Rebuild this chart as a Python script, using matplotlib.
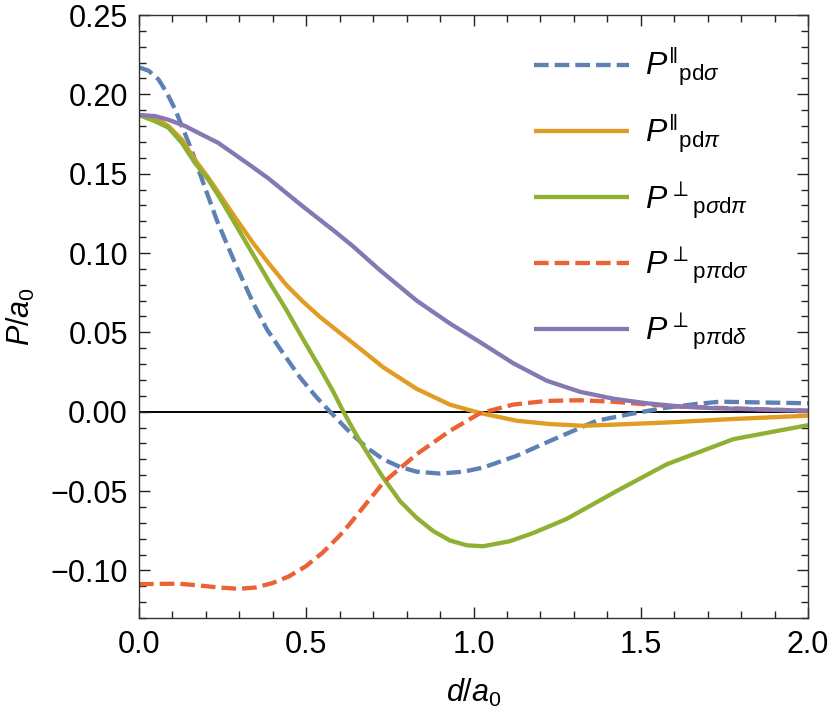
import matplotlib
matplotlib.use("Agg")
import matplotlib.pyplot as plt
from matplotlib.ticker import MultipleLocator, FuncFormatter

plt.rcParams["font.family"] = ["Liberation Sans", "DejaVu Sans"]
plt.rcParams["mathtext.fontset"] = "custom"
plt.rcParams["mathtext.rm"] = "Liberation Sans"
plt.rcParams["mathtext.it"] = "Liberation Sans:italic"

# values
d_pds = [0.0, 0.028, 0.058, 0.083, 0.108, 0.132, 0.157, 0.182, 0.207, 0.232, 0.262,
         0.292, 0.342, 0.382, 0.422, 0.481, 0.531, 0.571, 0.631, 0.681, 0.73, 0.78,
         0.83, 0.9, 0.97, 1.029, 1.129, 1.229, 1.368, 1.468, 1.568, 1.667, 1.737, 2.0]
p_pds = [0.217, 0.215, 0.2095, 0.201, 0.1905, 0.178, 0.165, 0.150, 0.1356, 0.121, 0.106,
         0.0913, 0.0682, 0.0520, 0.0395, 0.0217, 0.009, 0.0, -0.0131, -0.0226, -0.030, -0.0348,
         -0.0378, -0.039, -0.0378, -0.0352, -0.0278, -0.0184, -0.0057, -0.0015, 0.0023, 0.0049, 0.0063, 0.0053]

d_pdp = [0.0, 0.048, 0.088, 0.128, 0.167, 0.207, 0.242, 0.292, 0.342, 0.392, 0.441,
         0.491, 0.541, 0.591, 0.661, 0.73, 0.83, 0.93, 1.019, 1.129, 1.229, 1.328,
         1.578, 1.777, 2.0]
p_pdp = [0.187, 0.1852, 0.180, 0.1715, 0.1589, 0.1475, 0.1367, 0.121, 0.106, 0.0924, 0.0797,
         0.0692, 0.0597, 0.0513, 0.0397, 0.028, 0.0144, 0.0044, -0.0008, -0.0057, -0.0078, -0.0089,
         -0.0068, -0.0046, -0.0025]

d_psdp = [0.0, 0.048, 0.088, 0.128, 0.167, 0.207, 0.242, 0.292, 0.342, 0.392, 0.441,
          0.491, 0.541, 0.581, 0.611, 0.651, 0.691, 0.73, 0.78, 0.83, 0.88, 0.93,
          0.98, 1.029, 1.109, 1.179, 1.229, 1.279, 1.428, 1.578, 1.777, 2.0]
p_psdp = [0.187, 0.183, 0.179, 0.1694, 0.1568, 0.1462, 0.1346, 0.1167, 0.0987, 0.0808, 0.064,
          0.0455, 0.0275, 0.0125, 0.0, -0.0152, -0.0289, -0.0416, -0.0563, -0.0669, -0.0753, -0.0812,
          -0.0842, -0.0848, -0.0816, -0.0764, -0.0720, -0.0675, -0.050, -0.0331, -0.0173, -0.0085]

d_ppds = [0.0, 0.06, 0.12, 0.179, 0.239, 0.299, 0.349, 0.399, 0.448, 0.498, 0.548,
          0.598, 0.631, 0.73, 0.83, 0.93, 1.019, 1.119, 1.219, 1.319, 1.418, 1.518,
          1.618, 2.0]
p_ppds = [-0.1087, -0.1085, -0.1084, -0.1095, -0.1108, -0.1116, -0.1108, -0.108, -0.1038, -0.0975, -0.089,
          -0.0785, -0.0705, -0.0447, -0.0268, -0.012, -0.001, 0.0045, 0.0068, 0.0072, 0.0063, 0.0046,
          0.0032, 0.0006]

d_ppdd = [0.0, 0.048, 0.088, 0.138, 0.187, 0.237, 0.287, 0.337, 0.387, 0.422, 0.486,
          0.541, 0.586, 0.641, 0.72, 0.83, 0.93, 1.019, 1.119, 1.219, 1.319, 1.418,
          1.518, 1.618, 1.717, 2.0]
p_ppdd = [0.187, 0.1863, 0.184, 0.180, 0.1747, 0.1694, 0.162, 0.1546, 0.147, 0.141, 0.130,
          0.1209, 0.1135, 0.104, 0.0892, 0.070, 0.0555, 0.0439, 0.0305, 0.0195, 0.0125, 0.0082,
          0.0053, 0.0033, 0.0022, 0.0006]

labels = [
    r"$P^{\Vert}{}_{\mathrm{pd}\sigma}$",
    r"$P^{\Vert}{}_{\mathrm{pd}\pi}$",
    r"$P^{\perp}{}_{\mathrm{p}\sigma\mathrm{d}\pi}$",
    r"$P^{\perp}{}_{\mathrm{p}\pi\mathrm{d}\sigma}$",
    r"$P^{\perp}{}_{\mathrm{p}\pi\mathrm{d}\delta}$",
]
colors = ["#5E81B5", "#E19C24", "#8FB032", "#EB6235", "#8778B3"]


def minus_fmt(ndig):
    return FuncFormatter(lambda v, pos: f"{v:.{ndig}f}".replace("-", "\u2212"))


fig = plt.figure(figsize=(8.3, 7.15), dpi=100)
ax = fig.add_axes([0.1675, 0.1357, 0.806, 0.8433])

ax.axhline(0, color="black", lw=1.4, zorder=1)

series = [(d_pds, p_pds), (d_pdp, p_pdp), (d_psdp, p_psdp), (d_ppds, p_ppds), (d_ppdd, p_ppdd)]
for i, (xs, ys) in enumerate(series):
    line, = ax.plot(xs, ys, color=colors[i], lw=3.1, label=labels[i],
                    solid_capstyle="butt", solid_joinstyle="round", zorder=2)
    if i in (0, 3):
        line.set_dashes((3.4, 1.4))

ax.set_xlim(0, 2.0)
ax.set_ylim(-0.13, 0.25)
ax.xaxis.set_major_locator(MultipleLocator(0.5))
ax.xaxis.set_minor_locator(MultipleLocator(0.1))
ax.yaxis.set_major_locator(MultipleLocator(0.05))
ax.yaxis.set_minor_locator(MultipleLocator(0.01))
ax.xaxis.set_major_formatter(minus_fmt(1))
ax.yaxis.set_major_formatter(minus_fmt(2))
ax.tick_params(which="both", direction="in", top=True, right=True, colors="#222222",
               labelcolor="black", labelsize=22, width=1)
ax.tick_params(which="major", length=8)
ax.tick_params(which="minor", length=5)
ax.tick_params(axis="x", which="major", pad=9)
ax.tick_params(axis="y", which="major", pad=8)
for s in ax.spines.values():
    s.set_color("#333333")
    s.set_linewidth(1)

ax.set_xlabel(r"$d/a_0$", fontsize=22, labelpad=12)
ax.set_ylabel(r"$P/a_0$", fontsize=22, labelpad=10)

ax.legend(loc="upper left", bbox_to_anchor=(0.567, 0.975), frameon=False, fontsize=23,
          handlelength=2.95, handletextpad=0.5, labelspacing=0.76, borderpad=0)

fig.savefig("out.png", dpi=100)
